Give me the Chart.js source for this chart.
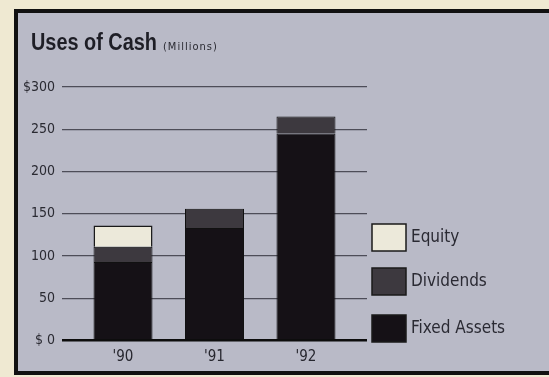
<!DOCTYPE html>
<html>
<head>
<meta charset="utf-8">
<script src="https://cdn.jsdelivr.net/npm/chart.js@4/dist/chart.umd.min.js"></script>
<style>
html,body{margin:0;padding:0;background:#efe9d2;}
#wrap{width:549px;height:377px;position:relative;}
</style>
</head>
<body>
<div id="wrap"><canvas id="c" width="549" height="377"></canvas></div>
<script>
const categories = ["'90", "'91", "'92"];
const fixedAssets = [93, 133, 245];
const dividends = [18, 23, 20];
const equity = [25, 0, 0];
const yTickValues = [0, 50, 100, 150, 200, 250, 300];
const yTickLabels = ['$ 0', '50', '100', '150', '200', '250', '$300'];
const seriesNames = ['Fixed Assets', 'Dividends', 'Equity'];
const titleMain = 'Uses of Cash';
const titleSub = '(Millions)';

const NARROW = "'Liberation Sans Narrow', 'DejaVu Sans Condensed', 'Liberation Sans', sans-serif";

function pts(arr){ return arr.map((v,i)=>({x:i, y:v})); }

const bgPlugin = {
  id: 'bg',
  beforeDraw(chart){
    const ctx = chart.ctx;
    ctx.save();
    ctx.fillStyle = '#efe9d2';
    ctx.fillRect(0,0,chart.width,chart.height);
    ctx.fillStyle = '#b9bac7';
    ctx.fillRect(16,11,chart.width,362);
    ctx.strokeStyle = '#111';
    ctx.lineWidth = 4;
    ctx.beginPath();
    ctx.moveTo(chart.width+5,11);
    ctx.lineTo(16,11);
    ctx.lineTo(16,373);
    ctx.lineTo(chart.width+5,373);
    ctx.stroke();
    ctx.restore();
  },
  afterDraw(chart){
    const ctx = chart.ctx;
    ctx.save();
    // title (condensed by horizontal scaling)
    ctx.fillStyle = '#1e1e26';
    ctx.textBaseline = 'alphabetic';
    ctx.textAlign = 'left';
    ctx.font = "bold 23px 'Liberation Sans', Arial, sans-serif";
    const w = ctx.measureText(titleMain).width;
    const sx = 126 / w;
    ctx.save();
    ctx.translate(31, 50);
    ctx.scale(sx, 1);
    ctx.fillText(titleMain, 0, 0);
    ctx.restore();
    ctx.font = "11px " + NARROW;
    ctx.letterSpacing = '1px';
    ctx.fillStyle = '#2a2a32';
    ctx.fillText(titleSub, 163, 50);
    ctx.letterSpacing = '0px';
    // legend
    const ds = chart.data.datasets;
    const boxY = [315, 268, 224];
    ds.forEach((d, i) => {
      const y = boxY[i];
      ctx.fillStyle = d.backgroundColor;
      ctx.fillRect(372, y, 34, 27);
      ctx.strokeStyle = '#1a1a1a';
      ctx.lineWidth = 1.5;
      ctx.strokeRect(372, y, 34, 27);
      ctx.fillStyle = '#2a2a33';
      ctx.font = "17px " + NARROW;
      ctx.textBaseline = 'middle';
      ctx.fillText(d.label, 411, y + 14);
    });
    ctx.restore();
  }
};

new Chart(document.getElementById('c'), {
  type: 'bar',
  data: {
    datasets: [
      {label: seriesNames[0], data: pts(fixedAssets), backgroundColor: '#151116', borderColor: '#111', borderWidth: 1},
      {label: seriesNames[1], data: pts(dividends), backgroundColor: '#3d393f', borderColor: '#111', borderWidth: 1},
      {label: seriesNames[2], data: pts(equity), backgroundColor: '#ece9da', borderColor: '#1a1a1a', borderWidth: 1.5}
    ]
  },
  plugins: [bgPlugin],
  options: {
    responsive: false,
    animation: false,
    layout: {padding: {left: 0, right: 182, top: 87, bottom: 0}},
    plugins: {legend: {display: false}, tooltip: {enabled: false}, title: {display: false}},
    datasets: {bar: {barPercentage: 0.645, categoryPercentage: 1}},
    scales: {
      x: {
        type: 'linear',
        offset: false,
        stacked: true,
        min: -0.667,
        max: 2.667,
        afterBuildTicks(s){ s.ticks = categories.map((c,i)=>({value:i})); },
        afterFit(s){ s.height = 36.5; },
        grid: {display: false, drawTicks: false, offset: false},
        border: {display: false},
        ticks: {
          padding: 8,
          color: '#26262e',
          font: {family: NARROW, size: 15},
          callback: (v) => categories[v]
        }
      },
      y: {
        stacked: true,
        min: 0,
        max: 300,
        afterBuildTicks(s){ s.ticks = yTickValues.map(v=>({value:v})); },
        afterFit(s){ s.width = 62; },
        grid: {
          drawTicks: false,
          color: (c) => c.tick && c.tick.value === 0 ? '#0d0d0d' : '#4d4d58',
          lineWidth: (c) => c.tick && c.tick.value === 0 ? 2.5 : 1.3
        },
        border: {display: false},
        ticks: {
          padding: 7,
          color: '#2a2a32',
          font: {family: NARROW, size: 14},
          callback: (v) => yTickLabels[yTickValues.indexOf(v)]
        }
      }
    }
  }
});
</script>
</body>
</html>
